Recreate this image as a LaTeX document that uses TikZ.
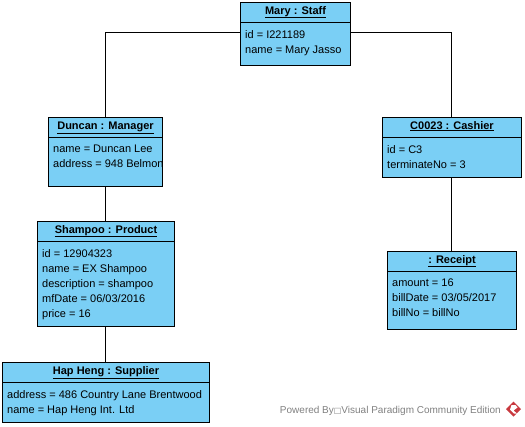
\documentclass[tikz,border=0pt]{standalone}
\usepackage{fontspec}
\setmainfont{Liberation Sans}
\newfontfamily\symfont{DejaVu Sans}
\definecolor{objblue}{HTML}{7ACFF5}
\definecolor{footgray}{HTML}{808080}
\definecolor{logored}{HTML}{C8393F}
\tikzset{
  objbox/.style={draw=black,fill=objblue,line width=1pt,rectangle,inner sep=0pt,outer sep=0pt},
  objtitle/.style={font=\fontsize{11}{13}\selectfont\bfseries,anchor=base,inner sep=0pt},
  objattr/.style={font=\fontsize{11}{15}\selectfont,anchor=north west,align=left,inner sep=0pt},
  conn/.style={draw=black,line width=1pt}
}
\begin{document}
\begin{tikzpicture}[x=1pt,y=-1pt,line join=miter]
    \useasboundingbox (0,0) rectangle (525,426);
    % connectors first, boxes go over them
    \coordinate (staffjoin) at (295.5,32.5);
    \coordinate (managerjoin) at (105.5,152);
    \coordinate (productjoin) at (105.5,274);
    \coordinate (supplierjoin) at (105.5,392);
    \coordinate (cashierjoin) at (451.5,147.5);
    \coordinate (receiptjoin) at (451.5,290);
    \draw[conn] (staffjoin) -| (managerjoin);
    \draw[conn] (staffjoin) -| (cashierjoin);
    \draw[conn] (managerjoin) -- (productjoin);
    \draw[conn] (productjoin) -- (supplierjoin);
    \draw[conn] (cashierjoin) -- (receiptjoin);
    % object boxes: name/centre/width/height/title/attributes
    \foreach \nm/\pos/\w/\h/\ttl/\attrs in {
        staff/{295.5,34}/110/63/{Mary : Staff}/{id = I221189\\name = Mary Jasso},
        manager/{105.5,152}/114/69/{Duncan : Manager}/{name = Duncan Lee\\address = 948 Belmon},
        product/{106,274}/137/105/{Shampoo : Product}/{id = 12904323\\name = EX Shampoo\\description = shampoo\\mfDate = 06/03/2016\\price = 16},
        supplier/{106,392.5}/207/60/{Hap Heng : Supplier}/{address = 486 Country Lane Brentwood\\name = Hap Heng Int. Ltd},
        cashier/{452,147.5}/139/60/{C0023 : Cashier}/{id = C3\\terminateNo = 3},
        receipt/{452,290.5}/129/78/{: Receipt}/{amount = 16\\billDate = 03/05/2017\\billNo = billNo}}
    {
        \node[objbox,minimum width=\w,minimum height=\h] (\nm) at (\pos) {};
        \draw[conn] ([yshift=-20pt]\nm.north west) -- ([yshift=-20pt]\nm.north east);
        \node[objtitle] (\nm title) at ([yshift=-11.5pt]\nm.north) {\underline{\ttl}};
        \node[objattr] (\nm attrs) at ([xshift=4.5pt,yshift=-27.5pt]\nm.north west) {\attrs};
    }
    % footer
    \node[font=\fontsize{10}{12}\selectfont,text=footgray,anchor=base east,inner sep=0pt] (footer) at (501,413) {Powered By{\symfont\fontsize{8}{8}\selectfont □}Visual Paradigm Community Edition};
    \fill[logored] (513.5,401.5) -- (521,409) -- (513.5,416.5) -- (506,409) -- cycle;
    \fill[white] (511.5,405) -- (515.5,405) -- (517.5,407.5) -- (513.5,410.5) -- (517,413.5) -- (514,413.5) -- (510,409.5) -- cycle;
\end{tikzpicture}
\end{document}
